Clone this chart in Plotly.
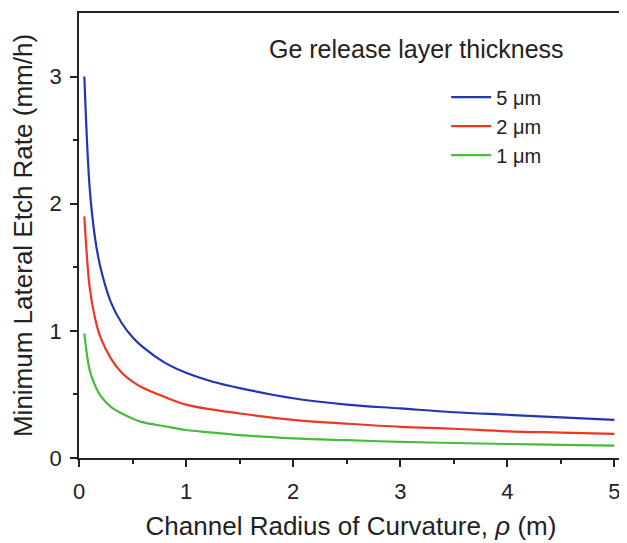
import plotly.graph_objects as go

# 곡률 반경 (m)
rho = [0.05, 0.1, 0.15, 0.2, 0.3, 0.4, 0.5, 0.6, 0.8, 1.0, 1.25, 1.5,
       2.0, 2.5, 3.0, 3.5, 4.0, 4.5, 5.0]

# 최소 측면 식각 속도 (mm/h)
rate_5um = [3.00, 2.12, 1.73, 1.50, 1.22, 1.06, 0.95, 0.87, 0.75, 0.67, 0.60, 0.55,
            0.47, 0.42, 0.39, 0.36, 0.34, 0.32, 0.30]
rate_2um = [1.90, 1.34, 1.10, 0.95, 0.78, 0.67, 0.60, 0.55, 0.48, 0.42, 0.38, 0.35,
            0.30, 0.27, 0.245, 0.23, 0.21, 0.20, 0.19]
rate_1um = [0.98, 0.69, 0.57, 0.49, 0.40, 0.35, 0.31, 0.28, 0.25, 0.22, 0.20, 0.18,
            0.155, 0.14, 0.127, 0.118, 0.11, 0.104, 0.098]

series = [("5 μm", rate_5um, "#2236b4"),
          ("2 μm", rate_2um, "#ee3526"),
          ("1 μm", rate_1um, "#48bb3c")]

fig = go.Figure()
for name, y, color in series:
    fig.add_trace(go.Scatter(x=rho, y=y, name=name, mode="lines",
                             line=dict(color=color, width=2.2, shape="spline")))

axis_font = dict(family="Liberation Sans, Arial", size=22, color="#222")
title_font = dict(family="Liberation Sans, Arial", size=26, color="#222")

# 페이지 body 여백(8px)을 고려한 크기
fig.update_layout(
    width=619, height=535,
    margin=dict(l=71, r=2, t=5, b=85),
    plot_bgcolor="white", paper_bgcolor="white",
    font=dict(family="Liberation Sans, Arial", size=20, color="#222"),
    showlegend=True,
    legend=dict(x=0.675, y=0.855, xanchor="left", yanchor="top",
                bgcolor="rgba(0,0,0,0)", font=dict(size=20),
                tracegroupgap=0, itemwidth=40),
    annotations=[dict(text="Ge release layer thickness", x=0.62, y=0.956,
                      xref="paper", yref="paper", showarrow=False,
                      font=dict(size=25, color="#222"))],
)

fig.update_xaxes(
    range=[0, 5.08], tickvals=[0, 1, 2, 3, 4, 5],
    ticks="outside", ticklen=7, tickwidth=1.5, tickcolor="#222",
    minor=dict(tickvals=[0.5, 1.5, 2.5, 3.5, 4.5], ticks="outside", ticklen=4,
               tickwidth=1.5, tickcolor="#222"),
    showline=True, linecolor="#222", linewidth=1.5, mirror=True,
    showgrid=False, zeroline=False, tickfont=axis_font, ticklabelstandoff=6,
    title=dict(text="Channel Radius of Curvature, <i>ρ</i> (m)", font=title_font, standoff=14),
)
fig.update_yaxes(
    range=[0, 3.5], tickvals=[0, 1, 2, 3],
    ticks="outside", ticklen=7, tickwidth=1.5, tickcolor="#222",
    minor=dict(tickvals=[0.5, 1.5, 2.5], ticks="outside", ticklen=4,
               tickwidth=1.5, tickcolor="#222"),
    showline=True, linecolor="#222", linewidth=1.5, mirror=True,
    showgrid=False, zeroline=False, tickfont=axis_font, ticklabelstandoff=4,
    title=dict(text="Minimum Lateral Etch Rate (mm/h)", font=title_font, standoff=10),
)

fig.write_html("out.html")
